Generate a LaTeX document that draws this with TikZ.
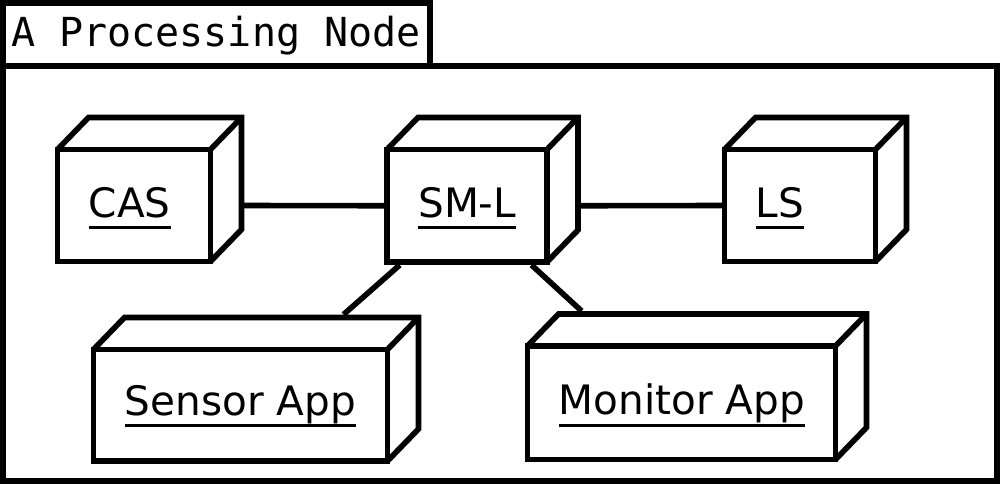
\documentclass[tikz,border=0pt]{standalone}
\usepackage{fontspec}
\setmainfont{DejaVu Sans}
\newfontfamily\titlefont{DejaVu Sans Mono}
\usetikzlibrary{calc,fit,intersections}
\newcommand\ulbl[1]{\setbox0\hbox{#1}\rlap{\rule[-9pt]{\wd0}{2.25pt}}\box0}
\tikzset{
  frameline/.style={line width=4.5pt, line join=miter},
  boxline/.style={line width=4.2pt, line join=miter},
  conn/.style={line width=4.2pt},
  extent/.style={inner sep=0pt, outer sep=0pt, rectangle},
  lbl/.style={inner sep=0pt, anchor=base west, font=\fontsize{30.4}{36}\selectfont},
  ttl/.style={inner sep=0pt, anchor=base west, font=\titlefont\fontsize{30}{36}\selectfont},
}
% draws the 3D device box of the fit node #1 (depth 31 x 32 px)
\newcommand\drawdevice[1]{%
  \draw[boxline] (#1.south west) rectangle ($(#1.north east)+(-31,32)$);
  \draw[boxline] ($(#1.north west)+(0,32)$) -- ($(#1.north west)+(31,0)$)
      -- (#1.north east) -- ($(#1.south east)+(0,-32)$) -- ($(#1.south east)+(-31,0)$);
  \draw[boxline] ($(#1.north east)+(-31,32)$) -- (#1.north east);
  \coordinate (#1-c) at ($(#1.south west)!0.5!($(#1.north east)+(-31,32)$)$);
  \path[name path=#1-bot] ($(#1.south west)+(0,3)$) -- ($(#1.south east)+(0,3)$);
  \path[name path=#1-top] ($(#1.north west)+(0,-3)$) -- ($(#1.north east)+(0,-3)$);
}
\begin{document}
\begin{tikzpicture}[x=0.75pt,y=-0.75pt]
\useasboundingbox (0,0) rectangle (1000,485);
% package frame
\node[extent, fit={(3.3,3) (429.5,66)}] (tab) {};
\node[extent, fit={(3.3,66) (996.5,480.5)}] (body) {};
\draw[frameline] (tab.south west) rectangle (tab.north east);
\draw[frameline] (body.south west) rectangle (body.north east);
\node[ttl] (title) at (11,46.5) {A Processing Node};

% devices (extent includes the depth)
\node[extent, fit={(57.5,117.5) (241.5,261.5)}] (cas) {};
\node[extent, fit={(387,117.5) (578,262)}] (sml) {};
\node[extent, fit={(724.5,117.5) (906.5,261.5)}] (ls) {};
\node[extent, fit={(93.5,317.5) (418.5,461)}] (sen) {};
\node[extent, fit={(527.5,314) (866.5,459.5)}] (mon) {};
\drawdevice{cas}
\drawdevice{sml}
\drawdevice{ls}
\drawdevice{sen}
\drawdevice{mon}

\node[lbl] (cas-t) at (88.5,217) {\ulbl{CAS}};
\node[lbl] (sml-t) at (418,217) {\ulbl{SM-L}};
\node[lbl] (ls-t) at (755.5,217) {\ulbl{LS}};
\node[lbl] (sen-t) at (124.5,415) {\ulbl{Sensor App}};
\node[lbl] (mon-t) at (558.5,414.5) {\ulbl{Monitor App}};

% connectors
\draw[conn] (cas-c -| cas.east) -- (sml-c -| sml.west);
\draw[conn] (sml-c -| sml.east) -- (ls-c -| ls.west);

\path[name path=sml-sen] (sml-c) -- (sen-c);
\path[name path=sml-mon] (sml-c) -- (mon-c);
\path[name intersections={of=sml-sen and sml-bot, name=ia}] coordinate (a1) at (ia-1);
\path[name intersections={of=sml-sen and sen-top, name=ib}] coordinate (a2) at (ib-1);
\path[name intersections={of=sml-mon and sml-bot, name=ic}] coordinate (b1) at (ic-1);
\path[name intersections={of=sml-mon and mon-top, name=id}] coordinate (b2) at (id-1);
\draw[conn] (a1) -- (a2);
\draw[conn] (b1) -- (b2);
\end{tikzpicture}
\end{document}
